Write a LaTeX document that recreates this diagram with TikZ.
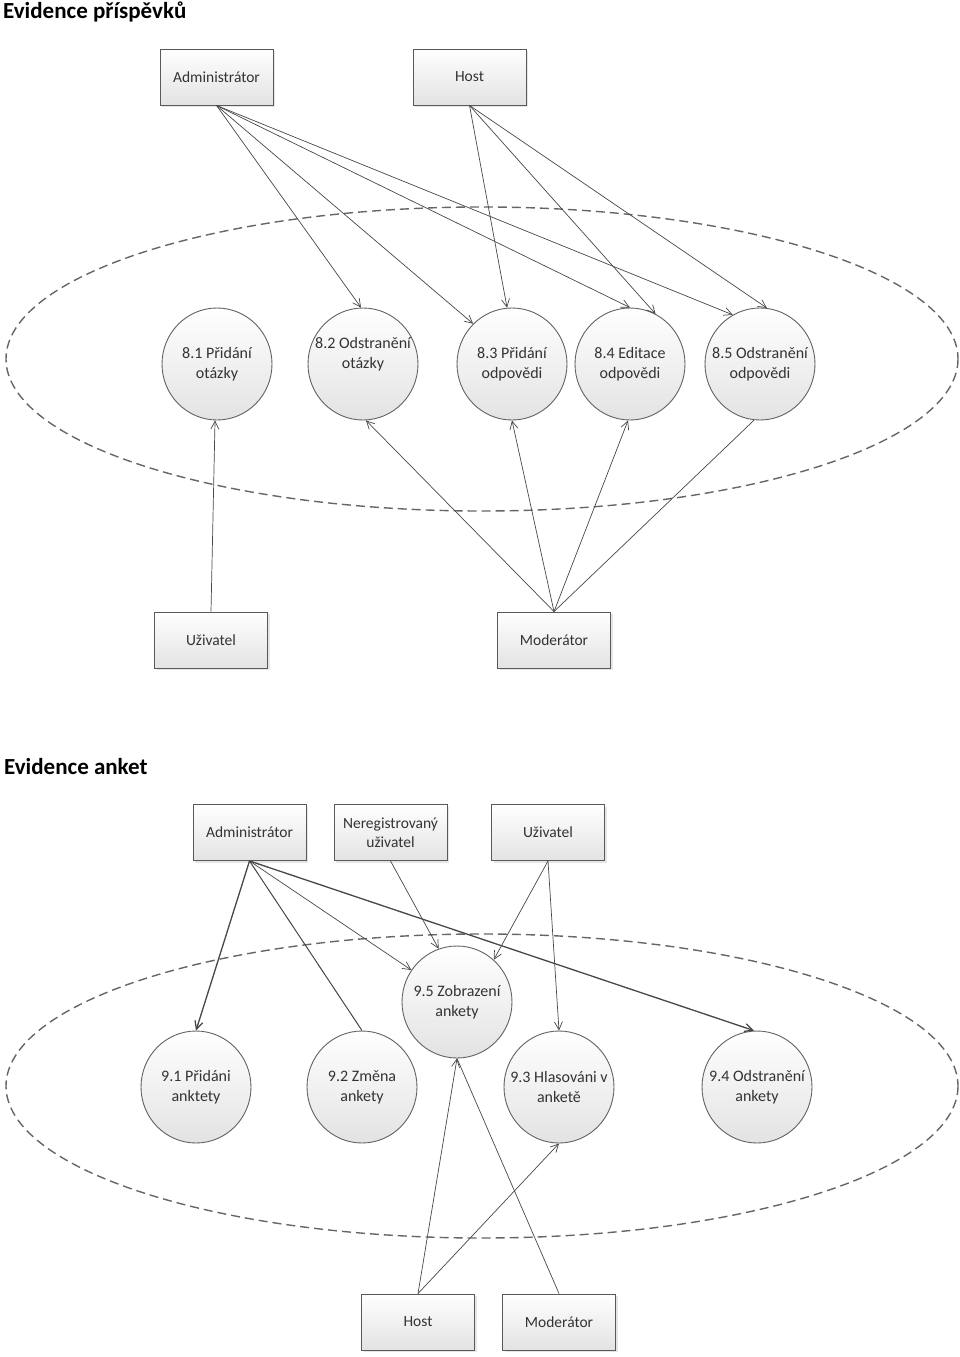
\documentclass[tikz,border=0pt]{standalone}
\usepackage{fontspec}
\setmainfont{Carlito}
\usetikzlibrary{shapes.geometric,arrows.meta,shadows}
\begin{document}
\begin{tikzpicture}[x=1pt,y=-1pt,
 actor/.style={draw=black!65, line width=0.9pt, top color=white, bottom color=black!11,
   minimum width=113pt, minimum height=56pt, inner sep=2pt, align=center,
   font=\fontsize{15.5}{19}\selectfont, text=black!80,
   drop shadow={shadow xshift=2pt,shadow yshift=-2pt,opacity=0.2}},
 proc/.style={ellipse, draw=black!62, line width=0.9pt, top color=white, bottom color=black!11,
   minimum width=110pt, minimum height=112pt, inner xsep=-14pt, inner ysep=0pt, align=center,
   font=\fontsize{16}{20}\selectfont, text=black!80},
 proctext/.style={align=center, font=\fontsize{16}{20}\selectfont, text=black!80, inner sep=0pt},
 flow/.style={draw=black!72, line width=0.7pt, -{Straight Barb[length=8pt,width=8pt]}},
 plainline/.style={draw=black!72, line width=0.7pt},
 boundary/.style={draw=black!60, line width=1.4pt, dash pattern=on 9pt off 5pt},
 title/.style={font=\fontsize{23}{26}\selectfont\bfseries, anchor=base west, inner sep=0pt}]

\useasboundingbox (0,0) rectangle (960,1357);

% ---------- Evidence příspěvků ----------
\node[title] (t1) at (3,18) {Evidence příspěvků};
\draw[boundary] (482,359) ellipse [x radius=476, y radius=152];

\node[actor] (adm1) at (216.5,77) {Administrátor};
\node[actor] (host1) at (469.5,77) {Host};
\node[actor] (uz1) at (211,640) {Uživatel};
\node[actor] (mod1) at (554,640) {Moderátor};

\node[proc] (c81) at (217,364) {8.1 Přidání\\otázky};
\node[proc, label={[proctext, yshift=10pt]center:{8.2 Odstranění\\otázky}}] (c82) at (363,364) {};
\node[proc] (c83) at (512,364) {8.3 Přidání\\odpovědi};
\node[proc] (c84) at (630,364) {8.4 Editace\\odpovědi};
\node[proc] (c85) at (760,364) {8.5 Odstranění\\odpovědi};

\draw[flow] (adm1.south) -- (c82.92);
\draw[flow] (adm1.south) -- (c83.134);
\draw[flow] (adm1.south) -- (c84.90);
\draw[flow] (adm1.south) -- (c85.119);
\draw[flow] (host1.south) -- (c83.95);
\draw[flow] (host1.south) -- (c84.63);
\draw[flow] (host1.south) -- (c85.83);
\draw[flow] (uz1.north) -- (c81.-92);
\draw[flow] (mod1.north) -- (c82.-87);
\draw[flow] (mod1.north) -- (c83.south);
\draw[flow] (mod1.north) -- (c84.-92);
\draw[plainline] (mod1.north) -- (c85.-96);

% ---------- Evidence anket ----------
\node[title] (t2) at (4,774) {Evidence anket};
\draw[boundary] (482,1086) ellipse [x radius=476, y radius=152];

\node[actor] (adm2) at (249.5,832.5) {Administrátor};
\node[actor] (nreg) at (390.5,832.5) {Neregistrovaný\\uživatel};
\node[actor] (uz2) at (548,832.5) {Uživatel};
\node[actor] (host2) at (418,1322) {Host};
\node[actor] (mod2) at (559,1322) {Moderátor};

\node[proc] (c91) at (196,1087) {9.1 Přidáni\\anktety};
\node[proc] (c92) at (362,1087) {9.2 Změna\\ankety};
\node[proc] (c93) at (559,1087) {9.3 Hlasováni v\\anketě};
\node[proc] (c94) at (757,1087) {9.4 Odstranění\\ankety};
\node[proc] (c95) at (457,1002) {9.5 Zobrazení\\ankety};

\draw[flow, line width=1.3pt] (adm2.south) -- (c91.north);
\draw[plainline, line width=1pt] (adm2.south) -- (c92.north);
\draw[flow] (adm2.south) -- (c95.145);
\draw[flow, line width=1.3pt] (adm2.south) -- (c94.93);
\draw[flow] (nreg.south) -- (c95.109);
\draw[flow] (uz2.south) -- (c95.49);
\draw[flow] (uz2.south) -- (c93.north);
\draw[flow] (host2.north) -- (c95.south);
\draw[flow] (host2.north) -- (c93.south);
\draw[plainline] (mod2.north) -- (c95.south);
\end{tikzpicture}
\end{document}
